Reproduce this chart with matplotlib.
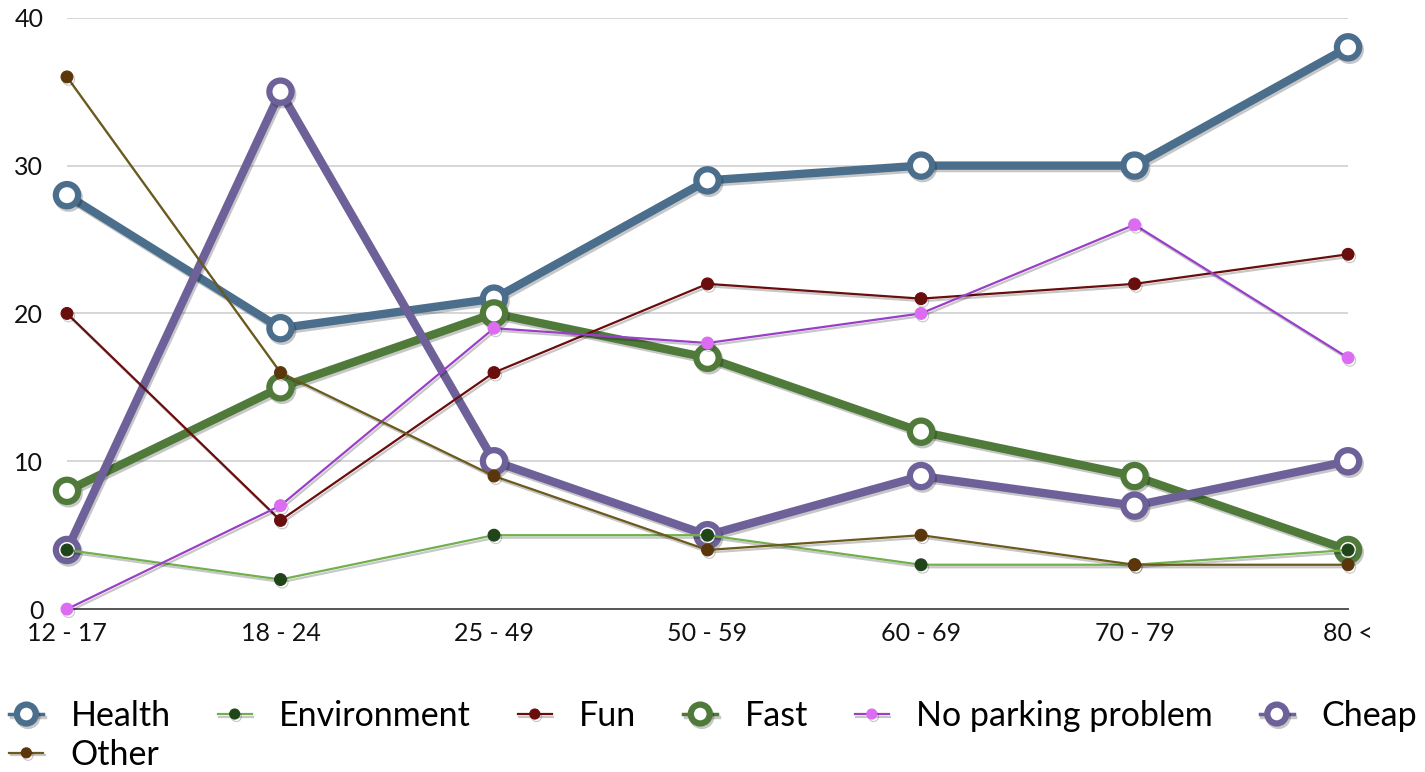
import matplotlib
matplotlib.use("Agg")
import matplotlib.pyplot as plt
import matplotlib.patheffects as pe
import numpy as np

plt.rcParams["font.family"] = ["Lato", "DejaVu Sans"]

AGES = ["12 - 17", "18 - 24", "25 - 49", "50 - 59", "60 - 69", "70 - 79", "80 <"]
HEALTH = [28, 19, 21, 29, 30, 30, 38]
ENVIRONMENT = [4, 2, 5, 5, 3, 3, 4]
FUN = [20, 6, 16, 22, 21, 22, 24]
FAST = [8, 15, 20, 17, 12, 9, 4]
NO_PARKING = [0, 7, 19, 18, 20, 26, 17]
CHEAP = [4, 35, 10, 5, 9, 7, 10]
OTHER = [36, 16, 9, 4, 5, 3, 3]

# name, values, line colour, marker colour, thick?
SERIES = [
    ("Health", HEALTH, "#4a6e8c", "#4a6e8c", True),
    ("Environment", ENVIRONMENT, "#72b04e", "#1f4519", False),
    ("Fun", FUN, "#6a0d0d", "#6a0d0d", False),
    ("Fast", FAST, "#4f7a3a", "#4f7a3a", True),
    ("No parking problem", NO_PARKING, "#9a3fc9", "#dc6cf2", False),
    ("Cheap", CHEAP, "#6e6199", "#6e6199", True),
    ("Other", OTHER, "#6b5a1c", "#5a360a", False),
]

fig = plt.figure(figsize=(14.25, 7.72), dpi=100)
ax = fig.add_axes([0.047, 0.211, 0.899, 0.766])
x = np.arange(len(AGES))

shadow = [pe.SimpleLineShadow(offset=(1.2, -1.8), alpha=0.22, rho=0.6), pe.Normal()]
handles = {}
# thick series first, thin ones drawn on top
order = [s for s in SERIES if s[4]] + [s for s in SERIES if not s[4]]
for z, (name, vals, lc, mc, thick) in enumerate(order):
    if thick:
        ln, = ax.plot(x, vals, color=lc, lw=6, marker="o", ms=16, mfc="white",
                      mec=mc, mew=4.5, clip_on=False, zorder=3 + z, label=name,
                      path_effects=shadow)
    else:
        ln, = ax.plot(x, vals, color=lc, lw=1.6, marker="o", ms=8.5, mfc=mc,
                      mec=mc, mew=0.8, clip_on=False, zorder=3 + z, label=name,
                      path_effects=shadow)
    handles[name] = ln

ax.set_xlim(0, 6)
ax.set_ylim(0, 40)
ax.set_yticks([0, 10, 20, 30, 40])
ax.set_xticks(x)
ax.set_xticklabels(AGES)
ax.grid(axis="y", color="#cfcfcf", lw=1.2)
ax.set_axisbelow(True)
for s in ["top", "right", "left"]:
    ax.spines[s].set_visible(False)
ax.spines["bottom"].set_color("#555555")
ax.spines["bottom"].set_linewidth(1.4)
ax.tick_params(axis="both", length=0, labelsize=18, colors="#111111")
ax.tick_params(axis="y", pad=17)
ax.tick_params(axis="x", pad=9)

# legend fills column by column: put "Other" second so it lands in row two
leg_order = ["Health", "Other", "Environment", "Fun", "Fast", "No parking problem", "Cheap"]
leg = fig.legend([handles[n] for n in leg_order], leg_order,
                 loc="lower left", bbox_to_anchor=(-0.003, -0.016), ncol=6,
                 frameon=False, fontsize=24.5, handlelength=1.0, handletextpad=0.8,
                 columnspacing=1.38, labelspacing=0.2, borderaxespad=0)
for h in leg.legend_handles:
    h.set_markersize(h.get_markersize() * 0.85)
    if h.get_linewidth() > 3:
        h.set_linewidth(2.5)

fig.savefig("out.png", dpi=100)
